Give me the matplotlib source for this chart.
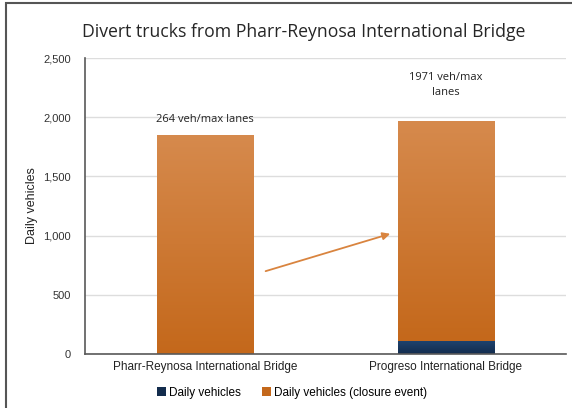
import matplotlib.pyplot as plt
import numpy as np
from matplotlib.colors import LinearSegmentedColormap
from matplotlib.patches import Rectangle

bridges = ["Pharr-Reynosa International Bridge", "Progreso International Bridge"]
daily = [0, 110]
closure = [1850, 1861]
notes = ["264 veh/max lanes", "1971 veh/max\nlanes"]
arrow_from = (0.24, 693)
arrow_to = (0.78, 1022)

ORANGE_TOP = "#D68A4D"
ORANGE_BOT = "#C4681B"
NAVY_TOP = "#1F4470"
NAVY_BOT = "#132C4D"


def gradient_bars(ax, bars, top, bottom):
    cmap = LinearSegmentedColormap.from_list("g", [bottom, top])
    grad = np.linspace(0, 1, 256).reshape(-1, 1)
    for b in bars:
        x, y = b.get_x(), b.get_y()
        w, h = b.get_width(), b.get_height()
        if h <= 0:
            continue
        b.set_facecolor("none")
        im = ax.imshow(grad, cmap=cmap, origin="lower", aspect="auto",
                       extent=(x, x + w, y, y + h), zorder=2)
        im.set_clip_path(b)


fig = plt.figure(figsize=(5.72, 4.08), dpi=100)
ax = fig.add_axes([85 / 572, 1 - 354 / 408, 481 / 572, 296 / 408])

x = np.arange(len(bridges))
b1 = ax.bar(x, daily, width=0.4, color=NAVY_BOT, linewidth=0, zorder=2,
            label="Daily vehicles")
b2 = ax.bar(x, closure, width=0.4, bottom=daily, color=ORANGE_BOT, linewidth=0,
            zorder=2, label="Daily vehicles (closure event)")
gradient_bars(ax, b1, NAVY_TOP, NAVY_BOT)
gradient_bars(ax, b2, ORANGE_TOP, ORANGE_BOT)

ax.set_xlim(-0.5, 1.5)
ax.set_ylim(0, 2500)
ax.set_yticks(range(0, 2501, 500))
ax.set_yticklabels([f"{v:,}" for v in range(0, 2501, 500)],
                   family="Liberation Sans", fontsize=8, color="#333333")
ax.set_xticks(x)
ax.set_xticklabels(bridges, family="Liberation Sans", fontsize=8.5, color="#222222")
ax.tick_params(length=0, pad=5)
ax.tick_params(axis="y", pad=10)
ax.grid(axis="y", color="#DDDDDD", lw=1, zorder=0)
ax.set_axisbelow(True)
for s in ["top", "right"]:
    ax.spines[s].set_visible(False)
for s in ["left", "bottom"]:
    ax.spines[s].set_color("#595959")
    ax.spines[s].set_linewidth(1.2)

ax.set_ylabel("Daily vehicles", family="Liberation Sans", fontsize=9,
              color="#222222", labelpad=4)

totals = [d + c for d, c in zip(daily, closure)]
ax.text(x[0], totals[0] + 130, notes[0], ha="center", va="center",
        family="Open Sans", fontsize=8, color="#222222")
ax.text(x[1], totals[1] + 300, notes[1], ha="center", va="center",
        family="Open Sans", fontsize=8, color="#222222", linespacing=1.45)

ax.annotate("", xy=arrow_to, xytext=arrow_from,
            arrowprops=dict(arrowstyle="-|>", color="#D9843F", lw=1.3,
                            mutation_scale=11))

fig.text(304 / 572, 1 - 32 / 408, "Divert trucks from Pharr-Reynosa International Bridge",
         ha="center", va="center", family="Open Sans", fontsize=12.7, color="#262626")

leg = fig.legend(handles=[b1, b2], loc="center", bbox_to_anchor=(0.51, 1 - 393 / 408),
                 ncols=2, frameon=False, prop={"family": "Liberation Sans", "size": 8.5},
                 handlelength=0.8, handleheight=0.8, handletextpad=0.2, columnspacing=1.8)
leg.legend_handles[0].set_facecolor(NAVY_BOT)
leg.legend_handles[1].set_facecolor(ORANGE_BOT)

fig.patches.append(Rectangle((6 / 572, -0.05), 1.0, 1 - 3 / 408 + 0.05,
                             transform=fig.transFigure, fill=False,
                             edgecolor="#555555", lw=1.5))

fig.savefig("out.png", dpi=100)
